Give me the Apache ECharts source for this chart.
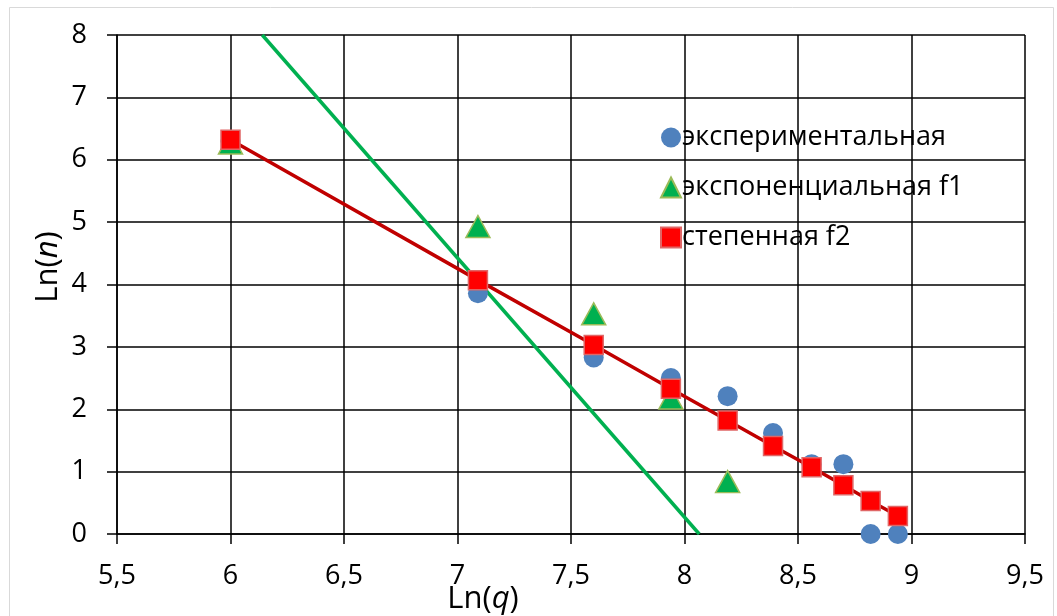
<!DOCTYPE html>
<html>
<head>
<meta charset="utf-8">
<script src="https://cdn.jsdelivr.net/npm/echarts@6/dist/echarts.min.js"></script>
<style>html,body{margin:0;padding:0;background:#fff}#c{width:1057px;height:616px}</style>
</head>
<body>
<div id="c"></div>
<script>
// ---- data ----
const lnQ = [6.0, 7.09, 7.6, 7.94, 8.19, 8.39, 8.56, 8.7, 8.82, 8.94];
const lnNExp = [6.3, 3.86, 2.83, 2.5, 2.21, 1.62, 1.12, 1.12, 0, 0];
const lnQF1 = [6.0, 7.09, 7.6, 7.94, 8.19];
const lnNF1 = [6.27, 4.93, 3.53, 2.18, 0.84];
const lnNF2 = [6.32, 4.07, 3.03, 2.33, 1.82, 1.41, 1.07, 0.78, 0.53, 0.29];
const trendQ = [6.14, 8.065];
const trendN = [8, 0];
const names = ['экспериментальная', 'экспоненциальная f1', 'степенная f2'];

const FONT = 'Open Sans';
const zip = (a, b) => a.map((v, i) => [v, b[i]]);

const chart = echarts.init(document.getElementById('c'), null, {renderer: 'canvas'});
chart.setOption({
  animation: false,
  backgroundColor: '#fff',
  textStyle: {fontFamily: FONT},
  graphic: [{
    type: 'rect', silent: true, z: -10,
    shape: {x: 9.5, y: 7.5, width: 1044, height: 640},
    style: {fill: 'none', stroke: '#d9d9d9', lineWidth: 1}
  }],
  grid: {left: 117, right: 32, top: 35, bottom: 82, containLabel: false, outerBoundsMode: 'none'},
  legend: {
    orient: 'vertical', left: 655, top: 119, itemGap: 23,
    itemWidth: 20, itemHeight: 20,
    textStyle: {fontFamily: FONT, fontSize: 27, color: '#000', padding: [0, 0, 0, -4]},
    data: [
      {name: names[0], icon: 'circle'},
      {name: names[1], icon: 'triangle'},
      {name: names[2], icon: 'rect'}
    ]
  },
  xAxis: {
    type: 'value', min: 5.5, max: 9.5, interval: 0.5,
    name: '{a|Ln(}{i|q}{a|)}', nameLocation: 'middle', nameGap: 50, nameMoveOverlap: false,
    nameTextStyle: {
      padding: [0, 176, 0, 0],
      rich: {
        a: {fontFamily: FONT, fontSize: 31, color: '#000'},
        i: {fontFamily: FONT, fontSize: 31, color: '#000', fontStyle: 'italic'}
      }
    },
    axisLine: {lineStyle: {color: '#000', width: 1.5}},
    axisTick: {show: true, length: 10, lineStyle: {color: '#000', width: 1.5}},
    axisLabel: {fontFamily: FONT, fontSize: 27, color: '#000', margin: 29,
      formatter: v => String(v).replace('.', ',')},
    splitLine: {show: true, lineStyle: {color: '#000', width: 1.5}}
  },
  yAxis: {
    type: 'value', min: 0, max: 8, interval: 1,
    name: '{a|Ln(}{i|n}{a|)}', nameLocation: 'middle', nameGap: 53, nameMoveOverlap: false,
    nameTextStyle: {
      padding: [0, 0, 0, 35],
      rich: {
        a: {fontFamily: FONT, fontSize: 31, color: '#000'},
        i: {fontFamily: FONT, fontSize: 31, color: '#000', fontStyle: 'italic'}
      }
    },
    axisLine: {show: true, lineStyle: {color: '#000', width: 1.5}},
    axisTick: {show: true, length: 10, lineStyle: {color: '#000', width: 1.5}},
    axisLabel: {fontFamily: FONT, fontSize: 27, color: '#000', margin: 30},
    splitLine: {show: true, lineStyle: {color: '#000', width: 1.5}}
  },
  series: [
    {
      name: 'trend', type: 'line', data: zip(trendQ, trendN),
      showSymbol: false, symbol: 'none', z: 2,
      lineStyle: {color: '#00B050', width: 3.5}
    },
    {
      name: names[0], type: 'scatter', data: zip(lnQ, lnNExp), z: 3,
      symbol: 'circle', symbolSize: 20,
      itemStyle: {color: '#4F81BD', opacity: 1}
    },
    {
      name: names[1], type: 'scatter', data: zip(lnQF1, lnNF1), z: 4,
      symbol: 'triangle', symbolSize: [24, 22],
      itemStyle: {color: '#00B050', borderColor: '#9BBB59', borderWidth: 1.5, opacity: 1}
    },
    {
      name: names[2], type: 'line', data: zip(lnQ, lnNF2), z: 5,
      symbol: 'rect', symbolSize: 19, showAllSymbol: true,
      lineStyle: {color: '#C00000', width: 3.5},
      itemStyle: {color: '#FF0000', borderColor: '#E06666', borderWidth: 1.5, opacity: 1}
    }
  ]
});
</script>
</body>
</html>
